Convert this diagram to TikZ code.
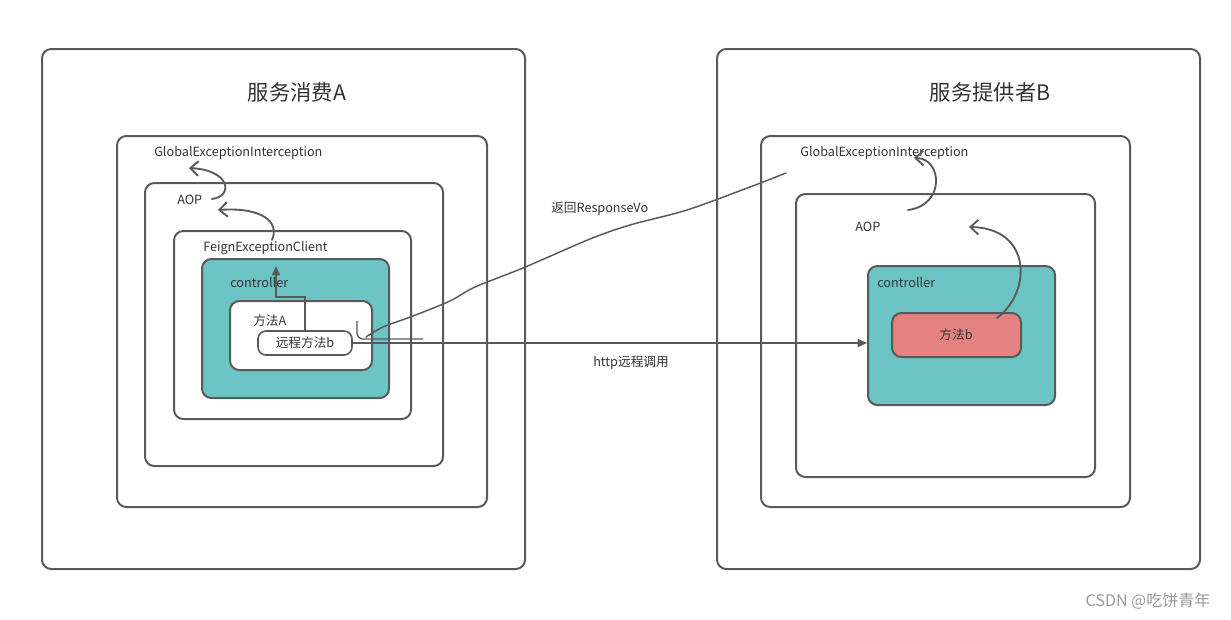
\documentclass[tikz,border=0pt]{standalone}
\usepackage{fontspec}
\setmainfont{Noto Sans CJK SC}
\usetikzlibrary{arrows.meta,fit,calc}
\colorlet{linecol}{black!65}
\colorlet{txtcol}{black!80}
\definecolor{tealcol}{HTML}{6DC4C4}
\definecolor{redcol}{HTML}{E48282}
\tikzset{
  box/.style={draw=linecol,line width=1.5pt,rounded corners=7pt,inner sep=0pt},
  txt/.style={text=txtcol,font=\fontsize{9.5}{11}\selectfont,inner sep=0pt,anchor=west},
  title/.style={text=txtcol,font=\fontsize{16}{19}\selectfont,inner sep=0pt},
  hand/.style={linecol,line width=1.4pt,line cap=round,-{Straight Barb[length=6pt,width=11pt]}},
  wire/.style={linecol,line width=1.2pt,-{Triangle[length=7pt,width=6pt]}}
}
\begin{document}
\begin{tikzpicture}[x=0.75pt,y=-0.75pt]
  \useasboundingbox (0,0) rectangle (1231,619);

  % CONSUMER A
  \node[box,fit={(42,49) (525,569)}] (lOuter) {};
  \node[title] (lTitle) at (297,92) {服务消费A};
  \node[box,fit={(117,136) (487,507)}] (lGlobal) {};
  \node[txt] (lGlobalTxt) at (154,153) {GlobalExceptionInterception};
  \node[box,fit={(145,183) (443,466)}] (lAop) {};
  \node[txt] (lAopTxt) at (177,200) {AOP};
  \node[box,fit={(174,231) (411,419)}] (lFeign) {};
  \node[txt] (lFeignTxt) at (203,248) {FeignExceptionClient};
  \node[box,fill=tealcol,fit={(202,259) (389,398)}] (lCtrl) {};
  \node[txt] (lCtrlTxt) at (230,283) {controller};
  \node[box,fill=white,fit={(230,301) (372,370)}] (lMethod) {};
  \node[txt] (lMethodTxt) at (253,321) {方法A};
  \node[box,fill=white,line width=1.2pt,rounded corners=6pt,fit={(258,331) (352,355)}] (lRemote) {};
  \node[text=txtcol,font=\fontsize{9.5}{11}\selectfont,inner sep=0pt] (lRemoteTxt) at (lRemote) {远程方法b};

  % PROVIDER B
  \node[box,fit={(717,49) (1200,569)}] (rOuter) {};
  \node[title] (rTitle) at (990,92) {服务提供者B};
  \node[box,fit={(761,136) (1130,507)}] (rGlobal) {};
  \node[txt] (rGlobalTxt) at (800,153) {GlobalExceptionInterception};
  \node[box,fit={(796,194) (1095,477)}] (rAop) {};
  \node[txt] (rAopTxt) at (855,227) {AOP};
  \node[box,fill=tealcol,fit={(868,266) (1055,405)}] (rCtrl) {};
  \node[txt] (rCtrlTxt) at (877,283) {controller};
  \node[box,fill=redcol,fit={(892,313) (1021,357)}] (rMethod) {};
  \node[text=txtcol,font=\fontsize{9.5}{11}\selectfont,inner sep=0pt] (rMethodTxt) at (956,335) {方法b};

  % CALLS
  \coordinate (lUp) at (276,266);
  \draw[wire] (lRemote.north) |- (276,297) -- (lUp);
  \draw[wire] (lRemote.east) -- (lRemote.east -| rCtrl.west);
  \node[txt] (httpTxt) at (593,363) {http远程调用};

  % RETURN
  \coordinate (retStart) at (786,173);
  \coordinate (retEnd) at (366,337);
  \draw[linecol,line width=1.1pt,line cap=round] plot[smooth,tension=0.5] coordinates
    {(retStart) (750,187) (687,210) (630,225) (590,239) (523,268) (475,287) (450,301) (413,316) (383,327) (retEnd)};
  \draw[linecol,line width=1pt,rounded corners=4pt] (357,321) -- (357,339) -- (423,339);
  \node[txt] (retTxt) at (551,209) {返回ResponseVo};

  % HAND ARROWS
  \draw[hand] (212,199) .. controls (234,196) and (230,170) .. (189,168);
  \draw[hand] (272,240) .. controls (280,222) and (262,207) .. (218,210);
  \draw[hand] (997,318) .. controls (1032,292) and (1032,228) .. (969,227);
  \draw[hand] (908,210) .. controls (946,205) and (942,158) .. (914,158);

  % WATERMARK
  \node[text=black!40,font=\fontsize{12}{14}\selectfont,inner sep=0pt] (mark) at (1148,601) {CSDN @吃饼青年};
\end{tikzpicture}
\end{document}
